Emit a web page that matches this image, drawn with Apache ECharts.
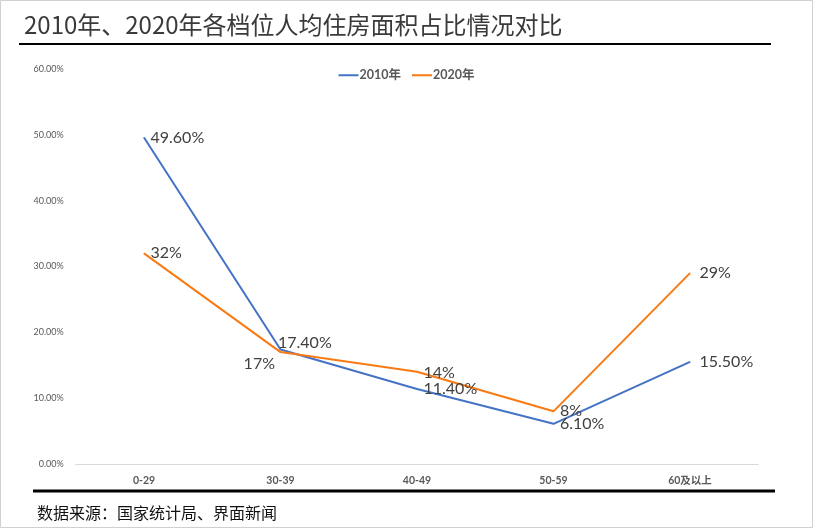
<!DOCTYPE html>
<html><head><meta charset="utf-8">
<script src="https://cdn.jsdelivr.net/npm/echarts@6/dist/echarts.min.js"></script>
<style>html,body{margin:0;padding:0;background:#fff}#c{width:813px;height:528px}</style>
</head><body><div id="c"></div>
<script>
const categories = ['0-29','30-39','40-49','50-59','60及以上'];
const values2010 = [49.6, 17.4, 11.4, 6.1, 15.5];
const values2020 = [32, 17, 14, 8, 29];
const labels2010 = ['49.60%','17.40%','11.40%','6.10%','15.50%'];
const labels2020 = ['32%','17%','14%','8%','29%'];
const yTicks = [0,10,20,30,40,50,60];

const labelFont = {fontFamily:'Lato, "Noto Sans", sans-serif', fontSize:16, color:'#404040'};
const off2010 = [{}, {position:'right', offset:[-9,-7]}, {}, {}, {distance:9}];
const off2020 = [{}, {position:'left', offset:[1,12]}, {offset:[0,1]}, {}, {distance:9}];

function mk(vals, labs, offs){
  return vals.map((v,i)=>({value:v, label:Object.assign({formatter:labs[i]}, offs[i])}));
}

const chart = echarts.init(document.getElementById('c'));
chart.setOption({
  animation:false,
  title:[
    {text:'2010年、2020年各档位人均住房面积占比情况对比', left:19, top:8,
     textStyle:{fontFamily:'"Noto Sans CJK SC", sans-serif', fontSize:24, fontWeight:'normal', color:'#3a3a3a'}},
    {text:'数据来源：国家统计局、界面新闻', left:32, top:500,
     textStyle:{fontFamily:'"Noto Sans CJK SC", sans-serif', fontSize:16, fontWeight:'normal', color:'#111'}}
  ],
  graphic:[
    {type:'rect', shape:{x:0.5,y:0.5,width:812,height:527}, style:{fill:null, stroke:'#d0d0d0', lineWidth:1}, silent:true},
    {type:'line', shape:{x1:19,y1:44,x2:771,y2:44}, style:{stroke:'#000', lineWidth:2}},
    {type:'line', shape:{x1:33,y1:491,x2:775,y2:491}, style:{stroke:'#000', lineWidth:3}}
  ],
  legend:{top:64, left:'center', itemWidth:20, itemHeight:2, itemGap:11,
    icon:'rect',
    textStyle:{fontFamily:'Lato, "Noto Sans CJK SC", sans-serif', fontSize:12.5, fontWeight:'bold', color:'#595959', padding:[0,0,0,-4]},
    data:['2010年','2020年']},
  grid:{left:75.75, right:54.75, top:69, bottom:64},
  xAxis:{type:'category', data:categories, boundaryGap:true,
    axisLine:{lineStyle:{color:'#d9d9d9'}}, axisTick:{show:false},
    axisLabel:{fontFamily:'Lato, "Noto Sans CJK SC", sans-serif', fontSize:10.5, fontWeight:'bold', color:'#595959', margin:11}},
  yAxis:{type:'value', min:0, max:60, interval:10,
    splitLine:{show:false}, axisLine:{show:false}, axisTick:{show:false},
    axisLabel:{fontFamily:'Lato, sans-serif', fontSize:9, color:'#595959', margin:12,
      formatter:v=>v.toFixed(2)+'%'}},
  series:[
    {name:'2010年', type:'line', data:mk(values2010, labels2010, off2010),
     symbol:'circle', symbolSize:1, lineStyle:{color:'#4472C4', width:2}, itemStyle:{color:'#4472C4'},
     label:Object.assign({show:true, position:'right', distance:6}, labelFont)},
    {name:'2020年', type:'line', data:mk(values2020, labels2020, off2020),
     symbol:'circle', symbolSize:1, lineStyle:{color:'#F97A12', width:2}, itemStyle:{color:'#F97A12'},
     label:Object.assign({show:true, position:'right', distance:6}, labelFont)}
  ]
});
</script></body></html>
